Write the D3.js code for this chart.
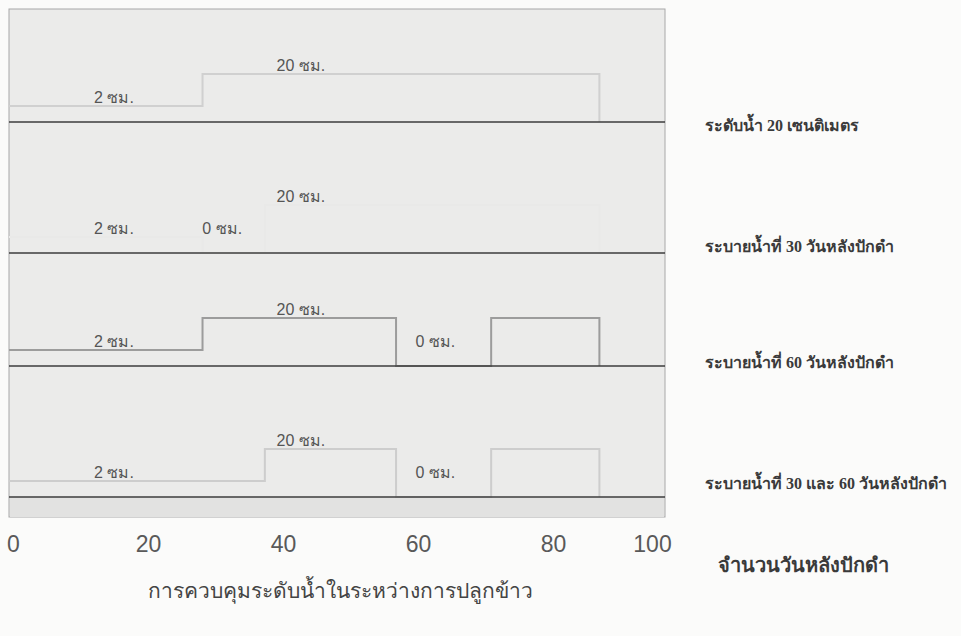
<!DOCTYPE html>
<html>
<head>
<meta charset="utf-8">
<script src="https://cdn.jsdelivr.net/npm/d3@7"></script>
<style>
  body { margin: 0; background: #fbfbfa; }
  svg { display: block; }
</style>
</head>
<body>
<div id="fig"></div>
<script>
const width = 961
const height = 636

// panel names (right side)
const panels = [
    'ระดับน้ำ 20 เซนติเมตร',
    'ระบายน้ำที่ 30 วันหลังปักดำ',
    'ระบายน้ำที่ 60 วันหลังปักดำ',
    'ระบายน้ำที่ 30 และ 60 วันหลังปักดำ'
]

// water level steps per panel: [start day, end day, level cm]
const steps1 = [[0, 29.5, 2], [29.5, 90, 20]]
const steps2 = [[0, 29.5, 2], [29.5, 39, 0], [39, 90, 20]]
const steps3 = [[0, 29.5, 2], [29.5, 59, 20], [59, 73.5, 0], [73.5, 90, 20]]
const steps4 = [[0, 39, 2], [39, 59, 20], [59, 73.5, 0], [73.5, 90, 20]]
const allSteps = [steps1, steps2, steps3, steps4]

// level labels per panel: [day, level]
const labels1 = [[16, 2], [44.5, 20]]
const labels2 = [[16, 2], [32.5, 0], [44.5, 20]]
const labels3 = [[16, 2], [44.5, 20], [65, 0]]
const labels4 = [[16, 2], [44.5, 20], [65, 0]]
const allLabels = [labels1, labels2, labels3, labels4]

const ticks = [0, 20, 40, 60, 80, 100]
const xTitle = 'จำนวนวันหลังปักดำ'
const caption = 'การควบคุมระดับน้ำในระหว่างการปลูกข้าว'

// panel 2 line is washed out in the scan
const lineColors = ['#d0d0d0', '#e9e9e8', '#9c9c9c', '#cdcdcd']

const box = {left: 9, right: 665, top: 9, bottom: 517}
const panelBottoms = [122, 253, 366, 497]
const nameY = [131, 252, 368, 489]

const x = d3.scaleLinear().domain([0, 100]).range([box.left, box.right])
// tick labels of the scan are not evenly placed
const xTick = d3.scaleLinear().domain([0, 80, 100]).range([13, 553, 652])
// height above panel bottom for each water level
const yLevel = d3.scaleLinear().domain([0, 2, 20]).range([0, 16, 48])

const svg = d3.select('#fig').append('svg')
    .attr('width', width)
    .attr('height', height)

svg.append('rect')
    .attr('x', box.left).attr('y', box.top)
    .attr('width', box.right - box.left).attr('height', box.bottom - box.top)
    .attr('fill', '#ebebea')
    .attr('stroke', '#a8a8a8')

svg.append('rect')
    .attr('x', box.left + 1).attr('y', panelBottoms[3])
    .attr('width', box.right - box.left - 2).attr('height', box.bottom - panelBottoms[3])
    .attr('fill', '#e2e2e1')

allSteps.forEach(function(steps, i) {
    const bottom = panelBottoms[i]
    const pts = []
    steps.forEach(function(s) {
        pts.push([x(s[0]), bottom - yLevel(s[2])])
        pts.push([x(s[1]), bottom - yLevel(s[2])])
    })
    pts.push([x(steps[steps.length - 1][1]), bottom])
    svg.append('path')
        .attr('d', d3.line()(pts))
        .attr('fill', 'none')
        .attr('stroke', lineColors[i])
        .attr('stroke-width', 2)

    svg.selectAll('.lab' + i)
        .data(allLabels[i])
        .enter()
        .append('text')
        .attr('x', d => x(d[0]))
        .attr('y', d => bottom - yLevel(Math.max(d[1], 2)) - 3)
        .attr('text-anchor', 'middle')
        .style('font-family', 'Liberation Sans, Arial, sans-serif')
        .style('font-size', '16px')
        .attr('fill', '#555')
        .text(d => d[1] + ' ซม.')

    svg.append('text')
        .attr('x', 705)
        .attr('y', nameY[i])
        .style('font-family', 'Liberation Serif, serif')
        .style('font-size', '16px')
        .style('font-weight', 'bold')
        .attr('fill', '#3a3a3a')
        .text(panels[i])
})

svg.selectAll('.divider')
    .data(panelBottoms)
    .enter()
    .append('line')
    .attr('x1', box.left).attr('x2', box.right)
    .attr('y1', d => d).attr('y2', d => d)
    .attr('stroke', '#3c3c3c')
    .attr('stroke-width', 1.5)

const axis = d3.axisBottom(xTick).tickValues(ticks).tickSize(0).tickPadding(0)
const gx = svg.append('g')
    .attr('transform', 'translate(0,536)')
    .call(axis)
gx.select('.domain').remove()
gx.selectAll('text')
    .style('font-family', 'Liberation Sans, Arial, sans-serif')
    .style('font-size', '23px')
    .attr('fill', '#595959')

svg.append('text')
    .attr('x', 718).attr('y', 572)
    .style('font-family', 'Liberation Serif, serif')
    .style('font-size', '20px')
    .style('font-weight', 'bold')
    .attr('fill', '#3a3a3a')
    .text(xTitle)

svg.append('text')
    .attr('x', 340).attr('y', 598)
    .attr('text-anchor', 'middle')
    .style('font-family', 'Liberation Sans, Arial, sans-serif')
    .style('font-size', '21px')
    .attr('fill', '#444')
    .text(caption)
</script>
</body>
</html>
